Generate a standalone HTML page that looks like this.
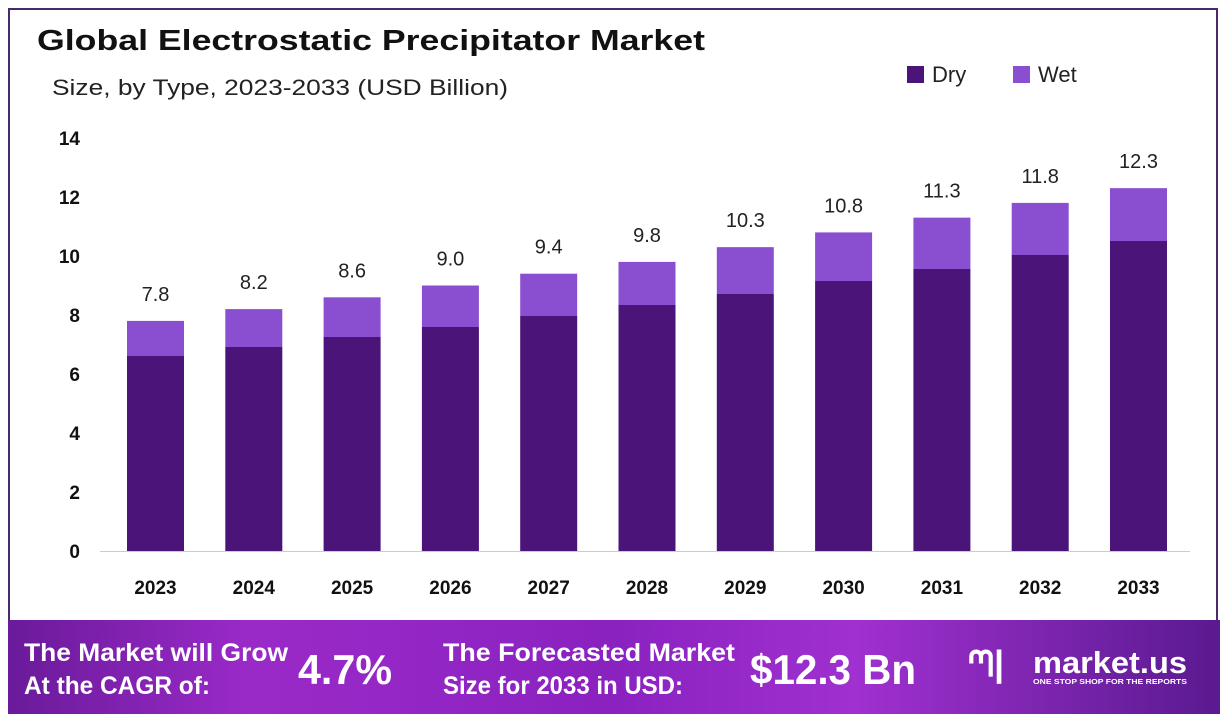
<!DOCTYPE html><html><head><style>
body{margin:0;width:1229px;height:720px;background:#fff;font-family:"Liberation Sans",sans-serif;overflow:hidden;position:relative}
.frame{position:absolute;left:8px;top:8px;width:1210px;height:700px;border:2px solid #4a2a6a;box-sizing:border-box}
.banner{position:absolute;left:8px;top:620px;width:1212px;height:94px;background:linear-gradient(90deg,#6a1a9a 0%,#9a2ac8 20%,#8a22c0 50%,#a030d0 70%,#5a1a90 100%)}
</style></head><body>
<div class="frame"></div>
<div class="banner"></div>
<svg width="1229" height="720" style="position:absolute;left:0;top:0" font-family="Liberation Sans, sans-serif">
<text x="37" y="50" font-size="29" font-weight="bold" fill="#111" textLength="668" lengthAdjust="spacingAndGlyphs">Global Electrostatic Precipitator Market</text>
<text x="52" y="95" font-size="22" fill="#222" textLength="456" lengthAdjust="spacingAndGlyphs">Size, by Type, 2023-2033 (USD Billion)</text>
<rect x="907" y="66" width="17" height="17" fill="#4a1478"/><text x="932" y="82" font-size="22" fill="#222">Dry</text>
<rect x="1013" y="66" width="17" height="17" fill="#8a4fd0"/><text x="1038" y="82" font-size="22" fill="#222">Wet</text>
<g font-size="19" font-weight="bold" fill="#111" text-anchor="end">
<text x="80" y="558">0</text><text x="80" y="499">2</text><text x="80" y="440">4</text><text x="80" y="381">6</text><text x="80" y="322">8</text><text x="80" y="263">10</text><text x="80" y="204">12</text><text x="80" y="145">14</text></g>
<line x1="100" y1="551.5" x2="1190" y2="551.5" stroke="#ccc"/>
<g id="bars"></g>
<g fill="#fff" font-weight="bold">
<text x="24" y="661" font-size="25" textLength="264" lengthAdjust="spacingAndGlyphs">The Market will Grow</text>
<text x="24" y="694" font-size="25" textLength="186" lengthAdjust="spacingAndGlyphs">At the CAGR of:</text>
<text x="298" y="684" font-size="42" textLength="94" lengthAdjust="spacingAndGlyphs">4.7%</text>
<text x="443" y="661" font-size="25" textLength="292" lengthAdjust="spacingAndGlyphs">The Forecasted Market</text>
<text x="443" y="694" font-size="25" textLength="240" lengthAdjust="spacingAndGlyphs">Size for 2033 in USD:</text>
<text x="750" y="684" font-size="42" textLength="166" lengthAdjust="spacingAndGlyphs">$12.3 Bn</text>
<text x="968" y="676" font-size="36">ᘉ|</text>
<text x="1033" y="673" font-size="31" textLength="154" lengthAdjust="spacingAndGlyphs">market.us</text>
<text x="1033" y="684" font-size="7" textLength="154" lengthAdjust="spacingAndGlyphs">ONE STOP SHOP FOR THE REPORTS</text>
</g>
</svg>
<script>
var tot=[7.8,8.2,8.6,9.0,9.4,9.8,10.3,10.8,11.3,11.8,12.3],dry=[356,347,337,327,316,305,294,281,269,255,241],s='';
for(var i=0;i<11;i++){var x=127+i*98.3,t=551-tot[i]*29.5;
s+='<rect x="'+x+'" y="'+t+'" width="57" height="'+(dry[i]-t)+'" fill="#8a4fd0"/>';
s+='<rect x="'+x+'" y="'+dry[i]+'" width="57" height="'+(551-dry[i])+'" fill="#4a1478"/>';
s+='<text x="'+(x+28.5)+'" y="'+(t-20)+'" font-size="20" text-anchor="middle" fill="#222">'+tot[i].toFixed(1)+'</text>';
s+='<text x="'+(x+28.5)+'" y="594" font-size="19" font-weight="bold" text-anchor="middle" fill="#111">'+(2023+i)+'</text>';}
document.getElementById('bars').innerHTML=s;
</script>
</body></html>
